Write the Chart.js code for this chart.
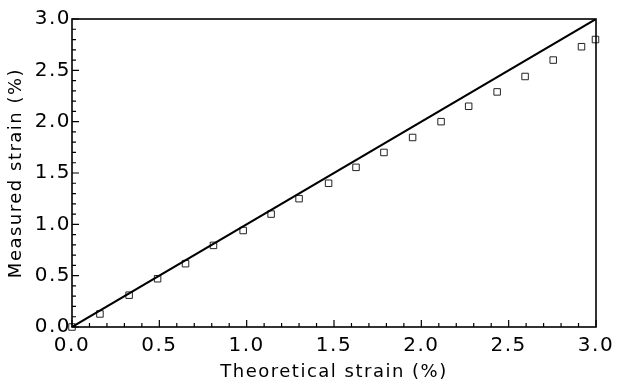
<!DOCTYPE html>
<html lang="en">
<head>
  <meta charset="UTF-8" />
  <title>Measured vs theoretical strain</title>
  <script src="https://cdn.jsdelivr.net/npm/chart.js"></script>
  <style>
    html, body { margin: 0; padding: 0; background: #fff; }
    #wrap { width: 617px; height: 383px; }
  </style>
</head>
<body>
  <div id="wrap"><canvas id="strainChart" width="617" height="383"></canvas></div>

  <script>
    // theoretical strain (%) of each measurement
    const theoretical = [0.0, 0.16, 0.327, 0.49, 0.65, 0.81, 0.98, 1.14, 1.30,
      1.469, 1.626, 1.786, 1.95, 2.113, 2.271, 2.434, 2.594, 2.755, 2.917, 2.997];
    // measured strain (%)
    const measured = [0.0, 0.127, 0.31, 0.47, 0.617, 0.795, 0.94, 1.10, 1.25,
      1.40, 1.555, 1.70, 1.846, 2.00, 2.15, 2.29, 2.44, 2.60, 2.73, 2.80];
    // 1:1 reference line
    const idealX = [0, 3];
    const idealY = [0, 3];
    const axisMin = 0, axisMax = 3, majorStep = 0.5, minorStep = 0.1;

    const font = 'DejaVu Sans';

    // the scanned figure has wide letter spacing
    const spacing = {
      id: 'spacing',
      beforeLayout(chart) { chart.ctx.letterSpacing = '1.5px'; },
      beforeDraw(chart) { chart.ctx.letterSpacing = '1.5px'; }
    };

    // ticks drawn inward, plus top/right frame
    const innerTicks = {
      id: 'innerTicks',
      afterDraw(chart) {
        const { ctx, chartArea: a, scales: { x, y } } = chart;
        ctx.save();
        ctx.strokeStyle = '#000';
        ctx.lineWidth = 1.6;
        ctx.strokeRect(a.left, a.top, a.right - a.left, a.bottom - a.top);
        ctx.lineWidth = 1.2;
        ctx.beginPath();
        const n = Math.round((axisMax - axisMin) / minorStep);
        for (let i = 0; i <= n; i++) {
          const v = axisMin + i * minorStep;
          const len = i % 5 === 0 ? 7 : 4;
          const px = x.getPixelForValue(v);
          ctx.moveTo(px, a.bottom);
          ctx.lineTo(px, a.bottom - len);
          const py = y.getPixelForValue(v);
          ctx.moveTo(a.left, py);
          ctx.lineTo(a.left + len, py);
        }
        ctx.stroke();
        ctx.restore();
      }
    };

    new Chart(document.getElementById('strainChart'), {
      type: 'scatter',
      data: {
        datasets: [
          {
            label: 'Ideal',
            data: idealX.map((v, i) => ({ x: v, y: idealY[i] })),
            showLine: true,
            borderColor: '#000',
            borderWidth: 2,
            pointRadius: 0
          },
          {
            label: 'Measured',
            data: theoretical.map((v, i) => ({ x: v, y: measured[i] })),
            pointStyle: 'rect',
            pointRadius: 4.6,
            pointBorderWidth: 1,
            borderColor: '#222',
            backgroundColor: 'rgba(255,255,255,0)',
            clip: false
          }
        ]
      },
      options: {
        responsive: false,
        animation: false,
        layout: { padding: { top: 19, right: 21, left: 0, bottom: 0 } },
        plugins: { legend: { display: false }, tooltip: { enabled: false } },
        scales: {
          x: {
            type: 'linear',
            min: axisMin,
            max: axisMax,
            grid: { display: false, drawTicks: false },
            border: { display: false },
            ticks: {
              stepSize: majorStep,
              padding: 7,
              color: '#000',
              font: { family: font, size: 20 },
              maxRotation: 0,
              callback: v => v.toFixed(1)
            },
            title: {
              display: true,
              text: 'Theoretical strain (%)',
              color: '#000',
              font: { family: font, size: 18 },
              padding: { top: 0, bottom: 0 }
            },
            afterFit(scale) {
              scale.height = 56;
              scale.paddingLeft = 0;
              scale.paddingRight = 0;
            }
          },
          y: {
            type: 'linear',
            min: axisMin,
            max: axisMax,
            grid: { display: false, drawTicks: false },
            border: { display: false },
            ticks: {
              stepSize: majorStep,
              padding: 1,
              color: '#000',
              font: { family: font, size: 20 },
              callback: v => v.toFixed(1)
            },
            title: {
              display: true,
              text: 'Measured strain (%)',
              color: '#000',
              font: { family: font, size: 18 },
              padding: { top: 6, bottom: 0 }
            },
            afterFit(scale) {
              scale.width = 72;
              scale.paddingTop = 0;
              scale.paddingBottom = 0;
            }
          }
        }
      },
      plugins: [spacing, innerTicks]
    });
  </script>
</body>
</html>
